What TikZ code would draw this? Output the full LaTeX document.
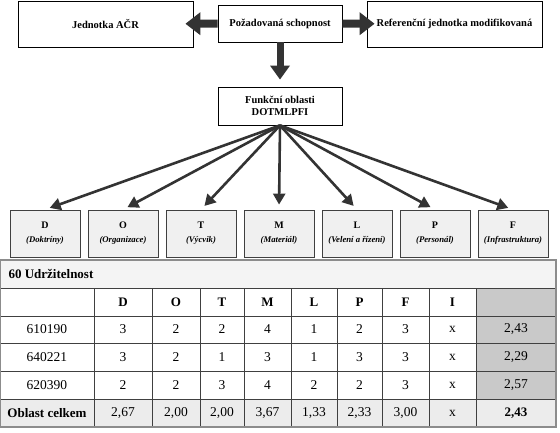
\documentclass[tikz,border=0pt]{standalone}
\usepackage{fontspec}
\setmainfont{Liberation Serif}
\usetikzlibrary{arrows.meta,positioning}
\definecolor{cellgray}{HTML}{C9C9C9}
\definecolor{rowgray}{HTML}{ECECEC}
\definecolor{titlegray}{HTML}{F4F4F4}
\definecolor{arrowdark}{HTML}{333333}
\begin{document}
\begin{tikzpicture}[x=1pt,y=-1pt,every node/.style={font=\fontsize{10.5}{12.5}\selectfont\bfseries},
  topbox/.style={draw,line width=0.8pt,fill=white,inner sep=0pt,align=center},
  areabox/.style={draw=black!75,line width=0.8pt,fill=black!6,minimum width=70pt,minimum height=47pt,inner sep=0pt,align=center,font=\fontsize{10}{14}\selectfont\bfseries},
  bigarrow/.style={draw=arrowdark,line width=8pt,-{Triangle[length=15pt,width=22pt]}},
  fanarrow/.style={draw=arrowdark,line width=2.6pt,-{Triangle[length=11pt,width=12pt]}},
  cell/.style={font=\fontsize{13.5}{15}\selectfont},
  bcell/.style={font=\fontsize{13}{15}\selectfont\bfseries},
  tabline/.style={draw=black!75,line width=0.8pt}]
\useasboundingbox (0,0) rectangle (560,433);
% Capability and the units
\node[topbox,minimum width=175pt,minimum height=46pt] (acr) at (105.5,24) {Jednotka AČR};
\node[topbox,minimum width=124pt,minimum height=37pt] (cap) at (280,23.5) {Požadovaná schopnost};
\node[topbox,minimum width=175pt,minimum height=46pt] (ref) at (454.5,24) {Referenční jednotka modifikovaná};
\node[topbox,minimum width=124pt,minimum height=38pt] (fun) at (280,106) {Funkční oblasti\\DOTMLPFI};
\draw[bigarrow,shorten >=-8pt] (cap) -- (acr);
\draw[bigarrow,shorten >=-8pt] (cap) -- (ref);
\draw[bigarrow,line width=7pt,-{Triangle[length=14pt,width=19pt]},shorten >=7pt] (cap) -- (fun);
% Functional areas
\foreach \n/\t [count=\i from 0] in {D/Doktríny,O/Organizace,T/Výcvik,M/Materiál,L/Velení a řízení,P/Personál,F/Infrastruktura} {
  \node[areabox] (f\n) at (45+78*\i,233.5) {\n\\{\fontsize{8.7}{10}\selectfont\itshape(\t)}};
  \draw[fanarrow,shorten >=5pt] (fun.south) -- (f\n.north);
}
% Table 60 Udrzitelnost
\fill[titlegray] (0,260) rectangle (556,288);
\fill[rowgray] (0,399) rectangle (556,427);
\fill[cellgray] (476,288) rectangle (556,399);
\foreach \y in {288,316,343,371,399} \draw[tabline] (0,\y) -- (556,\y);
\foreach \x in {94,152,200,244,291,337,382,429,476} \draw[tabline] (\x,288) -- (\x,427);
\draw[draw=black!45,line width=1.6pt] (0,260) rectangle (556,427);
\node[bcell,anchor=west] (title) at (5,274) {60 Udržitelnost};
\foreach \h [count=\c from 0] in {D,O,T,M,L,P,F,I} {
  \pgfmathsetmacro\cx{{123,176,222,267.5,314,359.5,405.5,452.5}[\c]}
  \node[bcell] (h\h) at (\cx,302) {\h};
}
\foreach \id/\y/\vals/\avg [count=\r] in {610190/329.5/{3,2,2,4,1,2,3,x}/{2,43},640221/357/{3,2,1,3,1,3,3,x}/{2,29},620390/385/{2,2,3,4,2,2,3,x}/{2,57}} {
  \node[cell] (id\r) at (47,\y) {\id};
  \foreach \v [count=\c from 0] in \vals {
    \pgfmathsetmacro\cx{{123,176,222,267.5,314,359.5,405.5,452.5}[\c]}
    \node[cell] (v\r-\c) at (\cx,\y) {\v};
  }
  \node[cell] (avg\r) at (516,\y) {\avg};
}
\node[bcell] (tot) at (47,413) {Oblast celkem};
\foreach \v [count=\c from 0] in {2{,}67,2{,}00,2{,}00,3{,}67,1{,}33,2{,}33,3{,}00,x} {
  \pgfmathsetmacro\cx{{123,176,222,267.5,314,359.5,405.5,452.5}[\c]}
  \node[cell] (t-\c) at (\cx,413) {\v};
}
\node[bcell] (totavg) at (516,413) {2,43};
\end{tikzpicture}
\end{document}
